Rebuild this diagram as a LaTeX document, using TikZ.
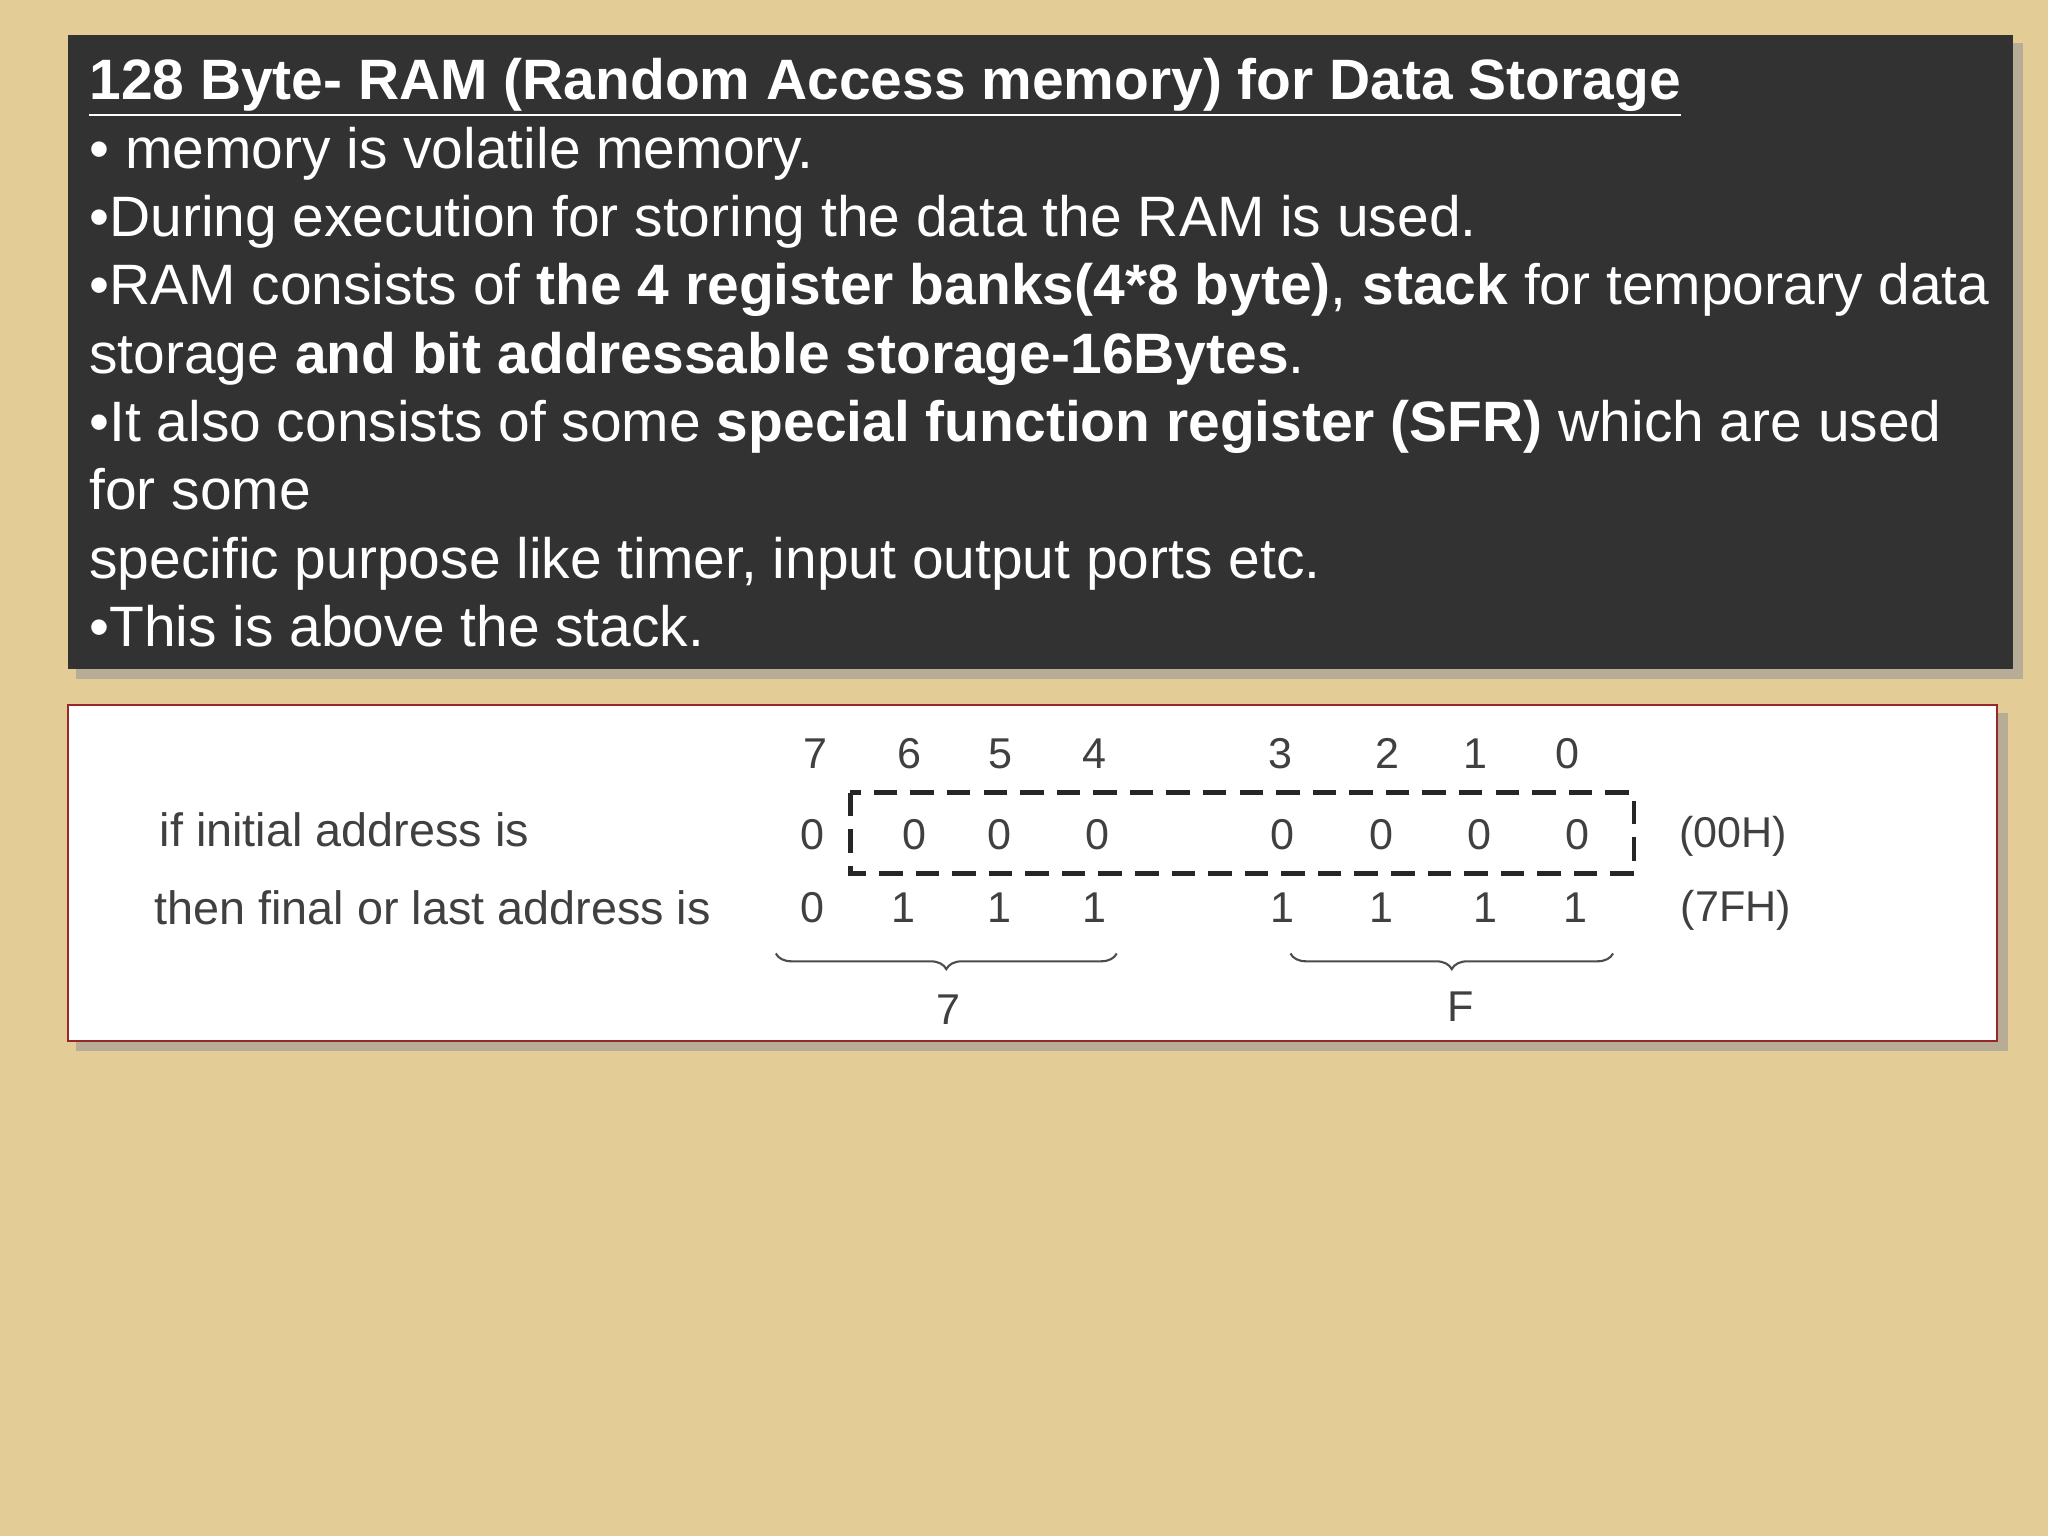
\documentclass[tikz,border=0pt]{standalone}
\usepackage{fontspec}
\setmainfont{Liberation Sans}
\usetikzlibrary{decorations.pathreplacing}
\begin{document}
\begin{tikzpicture}[x=0.5pt,y=-0.5pt,
  main/.style={anchor=base west,text=white,font=\fontsize{21.8}{26}\selectfont,inner sep=0},
  dg/.style={text=black!75,font=\fontsize{16.5}{19}\selectfont,inner sep=0},
  lb/.style={text=black!75,font=\fontsize{17.9}{21}\selectfont,inner sep=0},
  br/.style={decorate,decoration={brace,mirror,amplitude=6pt},draw=black!70,line width=0.8pt}]
\useasboundingbox (0,0) rectangle (1568,1176);
\fill[color={rgb,255:red,228;green,204;blue,150}] (0,0) rectangle (1568,1176);
\fill[black!40,opacity=0.6] (58,33) rectangle (1549,520);
\fill[color={rgb,255:red,50;green,50;blue,50}] (52,27) rectangle (1541,512);
\fill[black!40,opacity=0.6] (58,546) rectangle (1537,805);
\filldraw[fill=white,draw={rgb,255:red,150;green,40;blue,40},line width=0.8pt] (52,540) rectangle (1529,797);
\node[main] (t1) at (68,76) {\textbf{\underline{128 Byte- RAM (Random Access memory) for Data Storage}}};
\node[main] (t2) at (68,129) {• memory is volatile memory.};
\node[main] (t3) at (68,181) {•During execution for storing the data the RAM is used.};
\node[main] (t4) at (68,233) {•RAM consists of \textbf{the 4 register banks(4*8 byte)}, \textbf{stack} for temporary data};
\node[main] (t5) at (68,286) {storage \textbf{and bit addressable storage-16Bytes}.};
\node[main] (t6) at (68,338) {•It also consists of some \textbf{special function register (SFR)} which are used};
\node[main] (t7) at (68,390) {for some};
\node[main] (t8) at (68,443) {specific purpose like timer, input output ports etc.};
\node[main] (t9) at (68,495) {•This is above the stack.};
\foreach \b/\x in {7/624,6/696,5/766,4/838,3/980,2/1062,1/1130,0/1200}{
  \node[dg] (h\b) at (\x,577) {\b};}
\foreach \v/\x [count=\i] in {0/622,0/700,0/765,0/840,0/982,0/1058,0/1133,0/1208}{
  \node[dg] (a\i) at (\x,639) {\v};}
\foreach \v/\x [count=\i] in {0/622,1/692,1/765,1/838,1/982,1/1058,1/1137,1/1206}{
  \node[dg] (b\i) at (\x,695) {\v};}
\node[lb,anchor=west] (l1) at (122,635) {if initial address is};
\node[lb,anchor=west] (l2) at (118,695) {then final or last address is};
\node[dg] (r1) at (1327,640) {(00H)};
\node[dg] (r2) at (1329,697) {(7FH)};
\draw[black!85,dashed,dash pattern=on 9pt off 5pt,line width=1.8pt] (651,607) rectangle (1251,669);
\coordinate (p1) at (594,730); \coordinate (p2) at (855,730);
\coordinate (q1) at (988,730); \coordinate (q2) at (1235,730);
\draw[br] (p1) -- (p2);
\draw[br] (q1) -- (q2);
\node[dg] (s7) at (726,773) {7};
\node[dg] (sF) at (1118,771) {F};
\end{tikzpicture}
\end{document}
